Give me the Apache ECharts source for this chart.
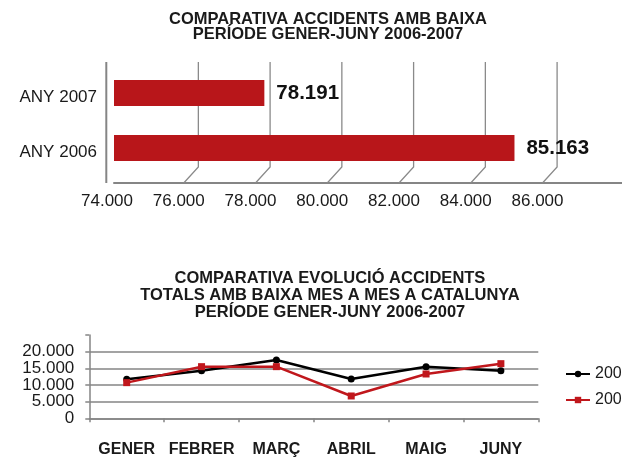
<!DOCTYPE html>
<html><head><meta charset="utf-8">
<script src="https://cdn.jsdelivr.net/npm/echarts@6/dist/echarts.min.js"></script>
<style>html,body{margin:0;padding:0;background:#fff}#c{width:622px;height:458px}</style>
</head><body><div id="c"></div>
<script>
// ---- data ----
const barCategories = ['ANY 2006', 'ANY 2007'];
const barValues = [85163, 78191];
const barTicks = [76000, 78000, 80000, 82000, 84000, 86000];
const months = ['GENER', 'FEBRER', 'MARÇ', 'ABRIL', 'MAIG', 'JUNY'];
const lineNames = ['2006', '2007'];
const series2006 = [11700, 14300, 17500, 11800, 15500, 14300];
const series2007 = [10700, 15500, 15500, 6700, 13300, 16400];

const FONT = "'Liberation Sans', Arial, sans-serif";
const TXT = '#1a1a1a';
const GRAY = '#858585';
const FLOOR = 7.5;
const fmt = v => String(v).replace(/\B(?=(\d{3})+(?!\d))/g, '.');

function renderWall(params, api) {
  const cs = params.coordSys;
  const x = api.coord([api.value(0), 0])[0];
  const bottom = cs.y + cs.height + FLOOR;
  const top = cs.y - 3.5;
  const children = [{
    type: 'polyline',
    shape: { points: [[x - 2, bottom], [x + 12.6, bottom - 16], [x + 12.6, top]] },
    style: { stroke: '#8a8a8a', lineWidth: 1.3, fill: null }
  }];
  if (params.dataIndex === 0) {
    children.push({ type: 'line', shape: { x1: cs.x - 7.7, y1: top, x2: cs.x - 7.7, y2: bottom },
      style: { stroke: GRAY, lineWidth: 2 } });
  }
  return { type: 'group', children };
}

const yLabelBase = { fontSize: 17, color: TXT, margin: 15, fontFamily: FONT,
  hideOverlap: false, showMinLabel: true, showMaxLabel: true };

const chart = echarts.init(document.getElementById('c'), null, { renderer: 'canvas' });
chart.setOption({
  animation: false,
  textStyle: { fontFamily: FONT },
  title: [
    { text: 'COMPARATIVA ACCIDENTS AMB BAIXA\nPERÍODE GENER-JUNY 2006-2007',
      left: 328, top: 12, padding: 0, textAlign: 'center',
      textStyle: { fontSize: 16.5, fontWeight: 'bold', color: TXT, lineHeight: 15, fontFamily: FONT } },
    { text: 'COMPARATIVA EVOLUCIÓ ACCIDENTS\nTOTALS AMB BAIXA MES A MES A CATALUNYA\nPERÍODE GENER-JUNY 2006-2007',
      left: 330, top: 269.5, padding: 0, textAlign: 'center',
      textStyle: { fontSize: 16.5, fontWeight: 'bold', color: TXT, lineHeight: 17, fontFamily: FONT } }
  ],
  grid: [
    { left: 114, top: 65.5, width: 574, height: 110, outerBoundsMode: 'none' },
    { left: 89.3, top: 335, width: 449, height: 83.3, outerBoundsMode: 'none' }
  ],
  legend: {
    orient: 'vertical', left: 565, top: 365, padding: 0,
    itemWidth: 24, itemHeight: 8, itemGap: 8,
    data: lineNames,
    textStyle: { fontSize: 16, color: TXT, lineHeight: 18, fontFamily: FONT }
  },
  xAxis: [
    { gridIndex: 0, type: 'value', min: 74000, max: 90000, interval: 2000, offset: FLOOR,
      axisLine: { show: true, lineStyle: { color: GRAY, width: 2 } },
      axisTick: { show: false }, splitLine: { show: false },
      axisLabel: { fontSize: 17, color: TXT, margin: 10, padding: [0, 14, 0, 0], fontFamily: FONT,
        formatter: v => (v <= 86000 ? fmt(v) : '') } },
    { gridIndex: 1, type: 'category', data: months, boundaryGap: true,
      axisLine: { show: true, lineStyle: { color: GRAY, width: 1.5 } },
      axisTick: { show: true, length: 4, lineStyle: { color: GRAY, width: 1.5 } },
      axisLabel: { fontSize: 16, fontWeight: 'bold', color: TXT, margin: 23, interval: 0, fontFamily: FONT } }
  ],
  yAxis: [
    { gridIndex: 0, type: 'category', data: barCategories,
      axisLine: { show: false }, axisTick: { show: false },
      axisLabel: { fontSize: 17, color: TXT, margin: 17, verticalAlign: 'top', lineHeight: 8, fontFamily: FONT } },
    { gridIndex: 1, type: 'value', min: 0, max: 25000, interval: 5000,
      axisLine: { show: true, lineStyle: { color: GRAY, width: 1.5 } },
      axisTick: { show: true, length: 4, lineStyle: { color: GRAY, width: 1.5 } },
      splitLine: { show: true, lineStyle: { color: [GRAY, GRAY, GRAY, GRAY, GRAY, 'rgba(0,0,0,0)'], width: 1.5 } },
      axisLabel: Object.assign({}, yLabelBase, {
        formatter: v => (v <= 20000 && v % 10000 === 0 ? fmt(v) : '') }) },
    { gridIndex: 1, type: 'value', min: 0, max: 25000, interval: 5000, position: 'left',
      axisLine: { show: false }, axisTick: { show: false }, splitLine: { show: false },
      axisLabel: Object.assign({}, yLabelBase, {
        formatter: v => (v <= 20000 && v % 10000 !== 0 ? fmt(v) : '') }) }
  ],
  series: [
    { type: 'custom', xAxisIndex: 0, yAxisIndex: 0, data: barTicks.map(v => [v, 0]),
      renderItem: renderWall, silent: true, z: 1, clip: false },
    { type: 'bar', xAxisIndex: 0, yAxisIndex: 0, data: barValues, barWidth: 26, z: 3,
      itemStyle: { color: '#B8161A' },
      label: { show: true, position: 'right', distance: 12, fontSize: 20.5, fontWeight: 'bold',
        color: '#111', fontFamily: FONT, formatter: p => fmt(p.value) } },
    { type: 'line', name: lineNames[0], xAxisIndex: 1, yAxisIndex: 1, data: series2006,
      symbol: 'circle', symbolSize: 7, lineStyle: { color: '#000', width: 2.5 },
      itemStyle: { color: '#000' }, z: 4 },
    { type: 'line', name: lineNames[1], xAxisIndex: 1, yAxisIndex: 1, data: series2007,
      symbol: 'rect', symbolSize: 7, lineStyle: { color: '#C0171C', width: 2.5 },
      itemStyle: { color: '#C0171C' }, z: 5 }
  ]
});
</script>
</body></html>
